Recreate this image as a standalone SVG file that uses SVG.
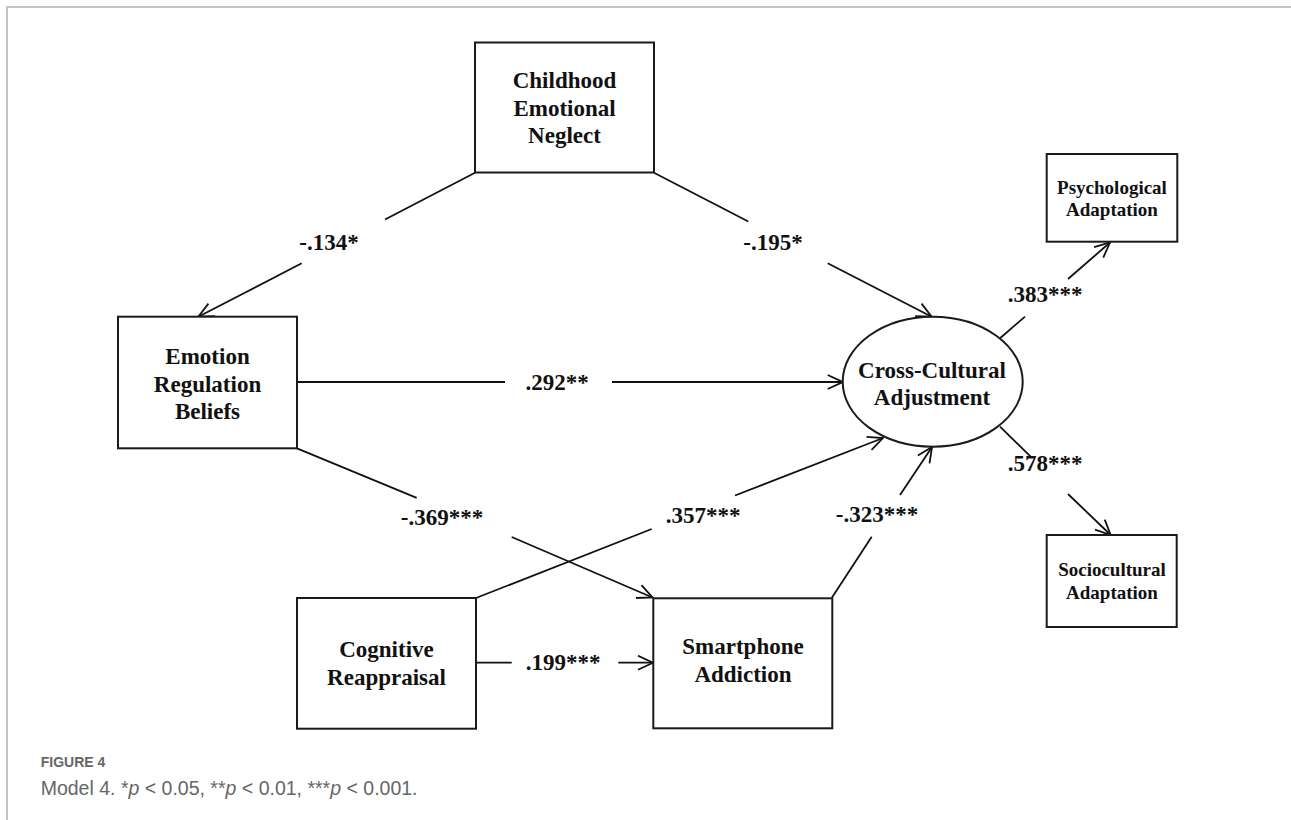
<svg xmlns="http://www.w3.org/2000/svg" width="1291" height="820" viewBox="0 0 1291 820">
<style>
.box{fill:#fff;stroke:#1a1a1a;stroke-width:2}
.nt{font-family:"Liberation Serif","Times New Roman",serif;font-weight:bold;font-size:23px;fill:#111;text-anchor:middle}
.st{font-family:"Liberation Serif","Times New Roman",serif;font-weight:bold;font-size:19px;fill:#111;text-anchor:middle}
.lb{font-family:"Liberation Serif","Times New Roman",serif;font-weight:bold;font-size:23px;fill:#111;text-anchor:middle}
.ln{fill:none;stroke:#111;stroke-width:1.8}
.cap{font-family:"Liberation Sans",Arial,sans-serif;fill:#666}
</style>
<defs>
<marker id="arr" markerUnits="userSpaceOnUse" viewBox="0 0 17 16" refX="16" refY="8" markerWidth="17" markerHeight="16" orient="auto">
<path d="M1,1 L16,8 L1,15" fill="none" stroke="#111" stroke-width="1.8"/>
</marker>
</defs>
<rect width="1291" height="820" fill="#fff"/>
<path d="M7,820 V7 H1291" fill="none" stroke="#c4c4c4" stroke-width="2"/>

<g id="connectors">
<line class="ln" x1="475" y1="172.7" x2="385" y2="219.5"/>
<line class="ln" x1="301.7" y1="263.3" x2="198.3" y2="316.7" marker-end="url(#arr)"/>
<text class="lb" x="329" y="250">-.134*</text>

<line class="ln" x1="654" y1="172.7" x2="748.3" y2="221.5"/>
<line class="ln" x1="827.7" y1="263.3" x2="931.7" y2="316.7" marker-end="url(#arr)"/>
<text class="lb" x="773" y="250">-.195*</text>

<line class="ln" x1="297" y1="382" x2="505" y2="382"/>
<line class="ln" x1="612" y1="382" x2="842.7" y2="382" marker-end="url(#arr)"/>
<text class="lb" x="557" y="390">.292**</text>

<line class="ln" x1="297" y1="448.3" x2="416.7" y2="497.8"/>
<line class="ln" x1="511.7" y1="537" x2="652.5" y2="597.5" marker-end="url(#arr)"/>
<text class="lb" x="442" y="525">-.369***</text>

<line class="ln" x1="476" y1="598" x2="651.7" y2="529"/>
<line class="ln" x1="735" y1="495.5" x2="883" y2="438" marker-end="url(#arr)"/>
<text class="lb" x="703" y="523">.357***</text>

<line class="ln" x1="832" y1="597.5" x2="871.7" y2="536.7"/>
<line class="ln" x1="900" y1="495" x2="932" y2="447" marker-end="url(#arr)"/>
<text class="lb" x="877" y="522">-.323***</text>

<line class="ln" x1="476" y1="662.7" x2="511.7" y2="662.7"/>
<line class="ln" x1="618.3" y1="662.7" x2="653" y2="662.7" marker-end="url(#arr)"/>
<text class="lb" x="563" y="670">.199***</text>

<line class="ln" x1="1000" y1="338.3" x2="1025" y2="316.6"/>
<line class="ln" x1="1068" y1="279" x2="1110" y2="242.5" marker-end="url(#arr)"/>
<text class="lb" x="1045" y="302">.383***</text>

<line class="ln" x1="1000" y1="426.7" x2="1030.7" y2="456.7"/>
<line class="ln" x1="1068" y1="494" x2="1110.7" y2="535" marker-end="url(#arr)"/>
<text class="lb" x="1045" y="471">.578***</text>
</g>

<g id="childhood">
<rect class="box" x="475" y="42.5" width="179" height="130"/>
<text class="nt" x="564.5" y="88">Childhood</text>
<text class="nt" x="564.5" y="116">Emotional</text>
<text class="nt" x="564.5" y="143">Neglect</text>
</g>

<g id="erb">
<rect class="box" x="118" y="316.7" width="179" height="131.6"/>
<text class="nt" x="207.5" y="364">Emotion</text>
<text class="nt" x="207.5" y="391.5">Regulation</text>
<text class="nt" x="207.5" y="419">Beliefs</text>
</g>

<g id="cr">
<rect class="box" x="297" y="598" width="179" height="130.7"/>
<text class="nt" x="386.5" y="657">Cognitive</text>
<text class="nt" x="386.5" y="685">Reappraisal</text>
</g>

<g id="sa">
<rect class="box" x="653.3" y="598.3" width="179" height="130"/>
<text class="nt" x="743" y="654">Smartphone</text>
<text class="nt" x="743" y="682">Addiction</text>
</g>

<g id="cca">
<ellipse class="box" cx="932.7" cy="381.7" rx="90" ry="65"/>
<text class="nt" x="932" y="378">Cross-Cultural</text>
<text class="nt" x="932" y="405">Adjustment</text>
</g>

<g id="psych">
<rect class="box" x="1046.7" y="154" width="130.6" height="87.7"/>
<text class="st" x="1112" y="194">Psychological</text>
<text class="st" x="1112" y="216">Adaptation</text>
</g>

<g id="socio">
<rect class="box" x="1046.7" y="535" width="130" height="92"/>
<text class="st" x="1112" y="576">Sociocultural</text>
<text class="st" x="1112" y="599">Adaptation</text>
</g>

<g id="caption">
<text class="cap" x="40.7" y="767" font-size="14" font-weight="bold">FIGURE 4</text>
<text class="cap" x="40.7" y="795" font-size="19.5">Model 4. *<tspan font-style="italic">p</tspan> &lt; 0.05, **<tspan font-style="italic">p</tspan> &lt; 0.01, ***<tspan font-style="italic">p</tspan> &lt; 0.001.</text>
</g>
</svg>
